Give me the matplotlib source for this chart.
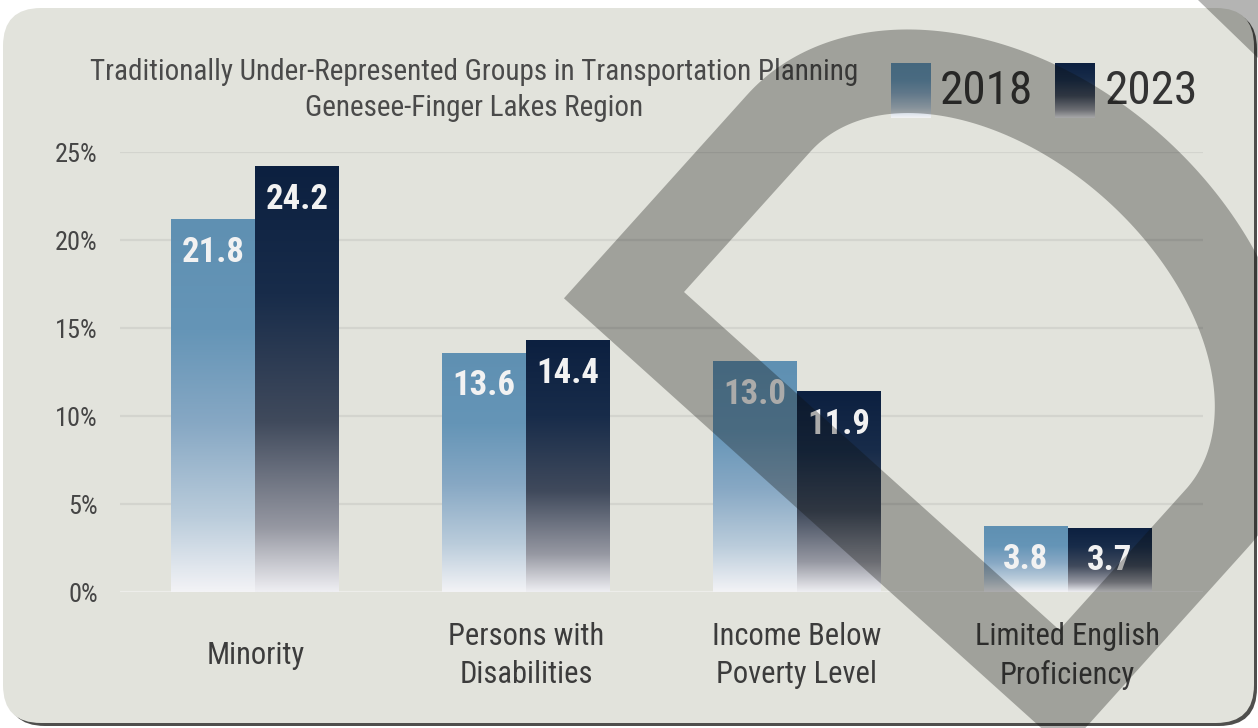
#!/usr/bin/env python3
"""Traditionally under-represented groups in transportation planning,
Genesee-Finger Lakes region: 2018 vs 2023 bar chart with gradient bars."""

import matplotlib

matplotlib.use("Agg")
import matplotlib.pyplot as plt
import numpy as np
from matplotlib import font_manager
from matplotlib.patches import FancyBboxPatch, PathPatch, Polygon
from matplotlib.path import Path

W, H = 1258, 728

categories = [
    "Minority",
    "Persons with\nDisabilities",
    "Income Below\nPoverty Level",
    "Limited English\nProficiency",
]
years = ["2018", "2023"]
# bar heights as drawn in the picture (%)
pct_2018 = [21.2, 13.6, 13.1, 3.75]
pct_2023 = [24.2, 14.3, 11.4, 3.65]
# value labels as printed on the bars
text_2018 = ["21.8", "13.6", "13.0", "3.8"]
text_2023 = ["24.2", "14.4", "11.9", "3.7"]
y_ticks = [0, 5, 10, 15, 20, 25]
y_tick_labels = ["0%", "5%", "10%", "15%", "20%", "25%"]

title_lines = [
    "Traditionally Under-Represented Groups in Transportation Planning",
    "Genesee-Finger Lakes Region",
]

# vertical gradient stops (top -> bottom of each bar)
STOPS_2018 = [(0.0, (95, 144, 178)), (0.3, (101, 149, 183)), (0.55, (135, 168, 196)),
              (0.8, (186, 204, 219)), (1.0, (243, 243, 246))]
STOPS_2023 = [(0.0, (12, 32, 64)), (0.3, (24, 44, 74)), (0.6, (64, 74, 92)),
              (0.85, (150, 152, 162)), (1.0, (238, 238, 242))]

PANEL = "#e2e3dc"
GRID = "#d3d4ce"
SHADE = (13 / 255, 14 / 255, 10 / 255)


def pick_font():
    entries = font_manager.fontManager.ttflist
    names = {f.name for f in entries}
    for name in ("Liberation Sans Narrow", "Roboto Condensed",
                 "Open Sans Condensed", "DejaVu Sans Condensed"):
        if name in names:
            return {"family": name}
    if any(f.name == "DejaVu Sans" and str(f.stretch) == "condensed" for f in entries):
        return {"family": "DejaVu Sans", "stretch": "condensed"}
    return {"family": "DejaVu Sans"}


FONT = pick_font()


def gradient(stops, n=256):
    pos = [s[0] for s in stops]
    cols = np.array([s[1] for s in stops]) / 255.0
    t = np.linspace(0, 1, n)
    arr = np.stack([np.interp(t, pos, cols[:, i]) for i in range(3)], axis=-1)
    return arr[:, None, :]


def d_shape(corner, theta_deg, width, side, bulge, n=200):
    """Rotated 'D' outline in pixel coords (y down).

    Sharp corners at `corner` and at `corner + width*e1`; two straight sides of
    length `side`, closed by a half ellipse of height `bulge` toward the upper right.
    """
    t = np.radians(theta_deg)
    e1 = np.array([np.cos(t), np.sin(t)])
    e2 = np.array([np.sin(t), -np.cos(t)])
    ang = np.linspace(0, np.pi, n)
    half = width / 2
    u = np.concatenate([[0, width], half + half * np.cos(ang)])
    v = np.concatenate([[0, 0], side + bulge * np.sin(ang)])
    return np.asarray(corner) + np.outer(u, e1) + np.outer(v, e2)


def ring_path(outer, inner):
    inner = inner[::-1]
    verts = np.concatenate([outer, outer[:1], inner, inner[:1]])
    codes = ([Path.MOVETO] + [Path.LINETO] * (len(outer) - 1) + [Path.CLOSEPOLY]
             + [Path.MOVETO] + [Path.LINETO] * (len(inner) - 1) + [Path.CLOSEPOLY])
    return Path(verts, codes)


fig = plt.figure(figsize=(W / 100, H / 100), dpi=100)
fig.patch.set_facecolor("white")

# background: panel with a drop shadow, plus the title
bg = fig.add_axes([0, 0, 1, 1], zorder=0)
bg.set_xlim(0, W)
bg.set_ylim(H, 0)
bg.axis("off")
bg.add_patch(FancyBboxPatch((7, 11), 1250, 715, boxstyle="round,pad=0,rounding_size=38",
                            facecolor="#4f4f4d", edgecolor="none"))
bg.add_patch(FancyBboxPatch((3, 8), 1251, 715, boxstyle="round,pad=0,rounding_size=38",
                            facecolor=PANEL, edgecolor="none"))
for line, y in zip(title_lines, (72, 108)):
    bg.text(474, y, line, ha="center", va="center", fontsize=21, color="#4a4a4a", **FONT)

# main chart
ax = fig.add_axes([120 / W, (H - 592) / H, 1083 / W, 440 / H], zorder=1)
ax.patch.set_alpha(0)
x = np.arange(len(categories))
bw = 0.31

grad_18 = gradient(STOPS_2018)
grad_23 = gradient(STOPS_2023)
for offset, vals, labels, grad in ((-bw / 2, pct_2018, text_2018, grad_18),
                                   (bw / 2, pct_2023, text_2023, grad_23)):
    bars = ax.bar(x + offset, vals, width=bw, color="none", edgecolor="none", zorder=2)
    for rect, lab in zip(bars, labels):
        x0, h = rect.get_x(), rect.get_height()
        img = ax.imshow(grad, extent=(x0, x0 + bw, 0, h), aspect="auto",
                        interpolation="bilinear", origin="upper", zorder=2)
        img.set_clip_path(rect)
        ax.annotate(lab, (x0 + bw / 2, h), xytext=(0, -12), textcoords="offset points",
                    ha="center", va="top", fontsize=25, fontweight="bold",
                    color="#f2f2f2", zorder=3, **FONT)

ax.set_xlim(-0.5, len(categories) - 0.5)
ax.set_ylim(0, 25)
ax.set_yticks(y_ticks)
ax.set_yticklabels(y_tick_labels)
ax.set_xticks(x)
ax.set_xticklabels(categories, linespacing=1.4)
for s in ax.spines.values():
    s.set_visible(False)
ax.tick_params(axis="y", length=0, pad=16, labelsize=19, labelcolor="#454545")
ax.tick_params(axis="x", length=0, pad=46, labelsize=22, labelcolor="#3c3c3c")
for lab in ax.get_yticklabels() + ax.get_xticklabels():
    lab.set_fontfamily(FONT["family"])
    if "stretch" in FONT:
        lab.set_fontstretch(FONT["stretch"])
for lab in ax.get_xticklabels():
    lab.set_va("center")
for yv in y_ticks:
    ax.axhline(yv, color="#ededea" if yv == 0 else GRID, lw=1.6, zorder=1)

# overlay: legend and the translucent decorative band
ov = fig.add_axes([0, 0, 1, 1], zorder=3)
ov.patch.set_alpha(0)
for (bx, tx), yr, grad in zip(((891, 940), (1055, 1105)), years, (grad_18, grad_23)):
    ov.imshow(grad, extent=(bx, bx + 40, 118, 63), aspect="auto",
              interpolation="bilinear", origin="upper", zorder=1)
    ov.text(tx, 91, yr, ha="left", va="center", fontsize=34, color="#333333",
            zorder=2, **FONT)

band = 85
theta = 42
inner_corner = np.array([684.0, 292.0])
t = np.radians(theta)
outer_corner = inner_corner - band * np.array([np.cos(t) + np.sin(t), np.sin(t) - np.cos(t)])
inner = d_shape(inner_corner, theta, 505, 189, 162)
outer = d_shape(outer_corner, theta, 505 + 2 * band, 189 + band, 162 + band)
ov.add_patch(PathPatch(ring_path(outer, inner), facecolor=SHADE, alpha=0.31,
                       edgecolor="none", zorder=5))
ov.add_patch(Polygon([(1198, 0), (W, 0), (W, 58)], closed=True, facecolor=SHADE,
                     alpha=0.31, edgecolor="none", zorder=5))
ov.set_xlim(0, W)
ov.set_ylim(H, 0)
ov.axis("off")

fig.savefig("out.png", dpi=100)
